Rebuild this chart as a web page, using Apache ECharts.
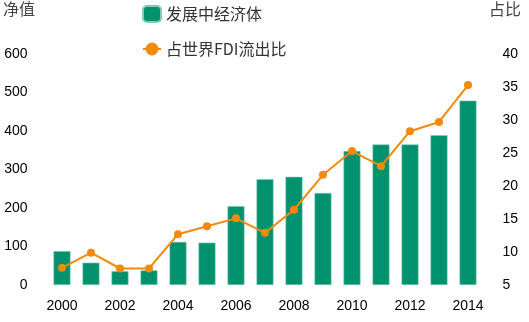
<!DOCTYPE html>
<html><head><meta charset="utf-8">
<script src="https://cdn.jsdelivr.net/npm/echarts@6/dist/echarts.min.js"></script>
<style>html,body{margin:0;padding:0;background:#fff}#c{width:529px;height:322px}</style>
</head><body><div id="c"></div>
<script>
var years = ['2000','2001','2002','2003','2004','2005','2006','2007','2008','2009','2010','2011','2012','2013','2014'];
var netValues = [88, 58, 36, 38, 112, 110, 205, 275, 281, 239, 348, 365, 365, 389, 479];
var shareValues = [7.6, 9.9, 7.5, 7.5, 12.7, 13.9, 15.1, 12.9, 16.4, 21.7, 25.3, 23.0, 28.3, 29.7, 35.3];
var barName = '发展中经济体';
var lineName = '占世界FDI流出比';
var leftAxisName = '净值';
var rightAxisName = '占比';

var green = '#00916E', orange = '#F28A0C';
var chart = echarts.init(document.getElementById('c'));
chart.setOption({
  animation: false,
  grid: {left: 47.5, right: 46.5, top: 54, bottom: 37},
  legend: {
    orient: 'vertical', left: 137, top: 0, itemGap: 18,
    itemWidth: 18, itemHeight: 16,
    textStyle: {fontFamily: 'Noto Sans CJK SC', fontSize: 16, color: '#333'},
    data: [
      {name: barName, itemStyle: {borderRadius: 3}},
      {name: lineName}
    ]
  },
  graphic: [
    {type: 'text', left: 3, top: 1, style: {text: leftAxisName, font: '16px "Noto Sans CJK SC"', fill: '#444'}},
    {type: 'text', right: 8, top: 1, style: {text: rightAxisName, font: '16px "Noto Sans CJK SC"', fill: '#444'}}
  ],
  xAxis: {
    type: 'category', data: years,
    axisLine: {show: false}, axisTick: {show: false},
    axisLabel: {interval: 1, margin: 14, fontFamily: 'Liberation Sans', fontSize: 14, color: '#000'}
  },
  yAxis: [
    {type: 'value', min: 0, max: 600, interval: 100,
     splitLine: {show: false}, axisLine: {show: false}, axisTick: {show: false},
     axisLabel: {margin: 20, fontFamily: 'Liberation Sans', fontSize: 14, color: '#000'}},
    {type: 'value', min: 5, max: 40, interval: 5,
     splitLine: {show: false}, axisLine: {show: false}, axisTick: {show: false},
     axisLabel: {margin: 20, fontFamily: 'Liberation Sans', fontSize: 14, color: '#000'}}
  ],
  series: [
    {name: barName, type: 'bar', data: netValues, barWidth: 17,
     itemStyle: {color: green, borderColor: '#7fcdb5', borderWidth: 0.6}},
    {name: lineName, type: 'line', yAxisIndex: 1, data: shareValues,
     symbol: 'circle', symbolSize: 8,
     lineStyle: {color: orange, width: 2}, itemStyle: {color: orange}}
  ]
});
</script></body></html>
